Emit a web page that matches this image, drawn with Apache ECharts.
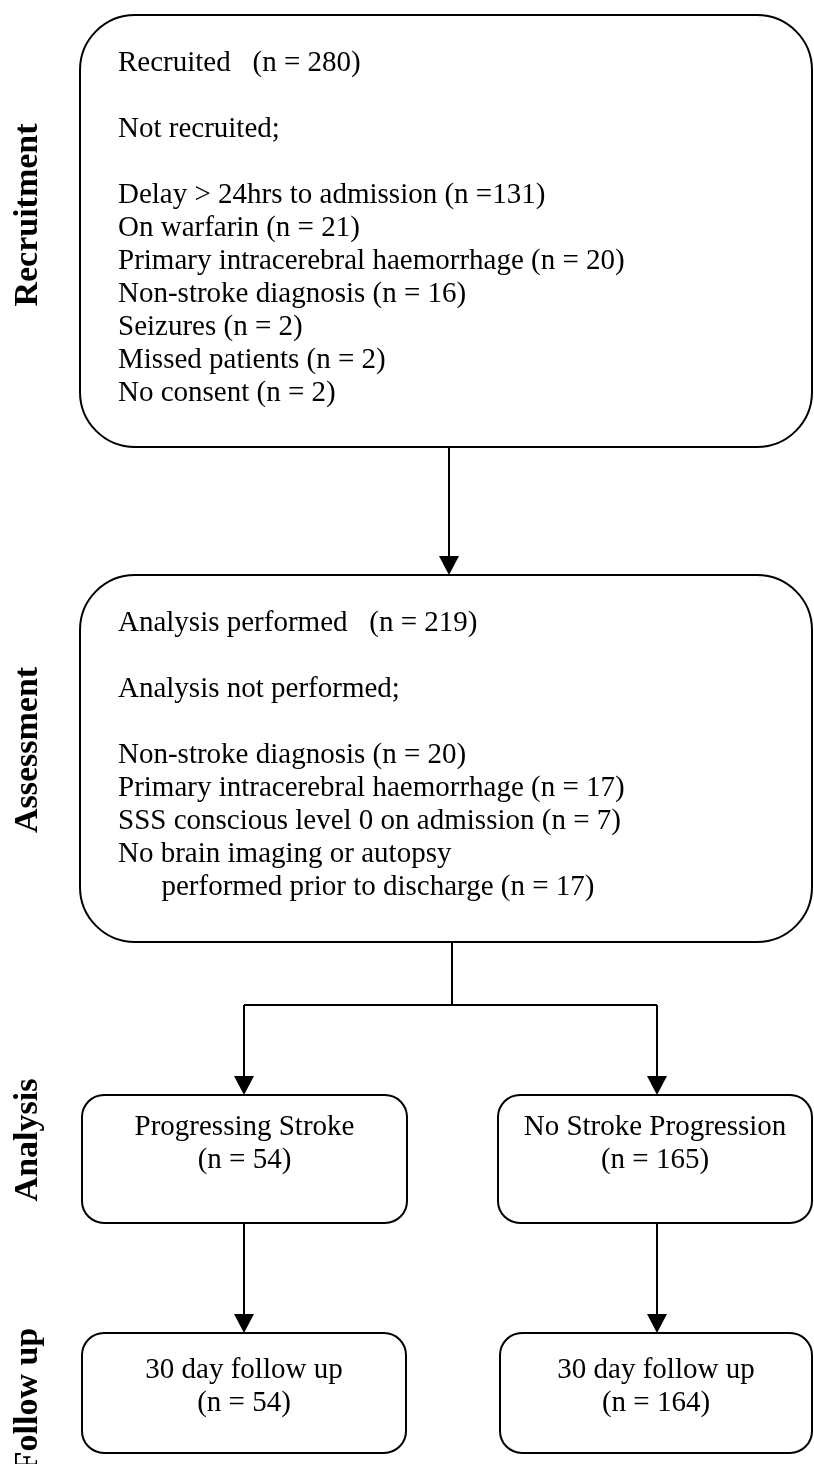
<!DOCTYPE html>
<html>
<head>
<meta charset="utf-8">
<script src="https://cdn.jsdelivr.net/npm/echarts@6/dist/echarts.min.js"></script>
<style>
html,body{margin:0;padding:0;background:#fff;}
#chart{width:814px;height:1464px;}
</style>
</head>
<body>
<div id="chart"></div>
<script>
// ---- data ----
const stageLabels = ['Recruitment', 'Assessment', 'Analysis', 'Follow up'];
const recruitmentLines = [
  'Recruited   (n = 280)',
  '',
  'Not recruited;',
  '',
  'Delay > 24hrs to admission (n =131)',
  'On warfarin (n = 21)',
  'Primary intracerebral haemorrhage (n = 20)',
  'Non-stroke diagnosis (n = 16)',
  'Seizures (n = 2)',
  'Missed patients (n = 2)',
  'No consent (n = 2)'
];
const assessmentLines = [
  'Analysis performed   (n = 219)',
  '',
  'Analysis not performed;',
  '',
  'Non-stroke diagnosis (n = 20)',
  'Primary intracerebral haemorrhage (n = 17)',
  'SSS conscious level 0 on admission (n = 7)',
  'No brain imaging or autopsy',
  '      performed prior to discharge (n = 17)'
];
const analysisGroups = ['Progressing Stroke', 'No Stroke Progression'];
const analysisCounts = [54, 165];
const followUpTitle = '30 day follow up';
const followUpCounts = [54, 164];

// ---- layout (pixels) ----
const FONT = '"Liberation Serif", "Times New Roman", serif';
const FS = 29, LH = 33;
const LINE = { stroke: '#000', lineWidth: 2 };

const bigBoxes = [
  { x: 80, y: 15, w: 732, h: 432, lines: recruitmentLines, label: 0 },
  { x: 80, y: 575, w: 732, h: 367, lines: assessmentLines, label: 1 }
];
const colX = [244, 657];
const smallBoxes = [
  { x: 82, y: 1095, w: 325, h: 128 },
  { x: 498, y: 1095, w: 314, h: 128 },
  { x: 82, y: 1333, w: 324, h: 120 },
  { x: 500, y: 1333, w: 312, h: 120 }
];

const g = [];
function text(str, x, y, opts) {
  g.push(Object.assign({
    type: 'text', x: x, y: y, silent: true,
    style: Object.assign({
      text: str, fill: '#000', fontFamily: FONT, fontSize: FS,
      align: 'left', verticalAlign: 'middle'
    }, opts && opts.style || {})
  }, opts && opts.el || {}));
}
function rrect(b, r) {
  g.push({ type: 'rect', silent: true,
    shape: { x: b.x, y: b.y, width: b.w, height: b.h, r: r },
    style: Object.assign({ fill: 'none' }, LINE) });
}
function line(pts) {
  g.push({ type: 'polyline', silent: true, shape: { points: pts },
    style: Object.assign({ fill: 'none' }, LINE) });
}
function arrow(x, y1, y2) {
  line([[x, y1], [x, y2 - 14]]);
  g.push({ type: 'polygon', silent: true,
    shape: { points: [[x - 10, y2 - 19], [x + 10, y2 - 19], [x, y2]] },
    style: { fill: '#000' } });
}

// big boxes with text
bigBoxes.forEach(function (b) {
  rrect(b, 55);
  b.lines.forEach(function (s, i) {
    if (s) text(s, 118, b.y + 48 + i * LH);
  });
});

// stage labels (rotated)
const labelY = [215, 750, 1140, 1400];
stageLabels.forEach(function (s, i) {
  text(s, 28, labelY[i], {
    el: { rotation: Math.PI / 2 },
    style: { fontSize: 34, fontWeight: 'bold', align: 'center' }
  });
});

// connectors
arrow(449, 447, 575);
line([[452, 942], [452, 1005]]);
line([[colX[0], 1005], [colX[1], 1005]]);
arrow(colX[0], 1005, 1095);
arrow(colX[1], 1005, 1095);
arrow(colX[0], 1223, 1333);
arrow(colX[1], 1223, 1333);

// small boxes
smallBoxes.forEach(function (b) { rrect(b, 22); });
analysisGroups.forEach(function (s, i) {
  const b = smallBoxes[i];
  const cx = b.x + b.w / 2;
  text(s, cx, b.y + 32, { style: { align: 'center' } });
  text('(n = ' + analysisCounts[i] + ')', cx, b.y + 32 + LH, { style: { align: 'center' } });
});
followUpCounts.forEach(function (n, i) {
  const b = smallBoxes[i + 2];
  const cx = b.x + b.w / 2;
  text(followUpTitle, cx, b.y + 37, { style: { align: 'center' } });
  text('(n = ' + n + ')', cx, b.y + 37 + LH, { style: { align: 'center' } });
});

const chart = echarts.init(document.getElementById('chart'), null, { renderer: 'canvas' });
chart.setOption({
  backgroundColor: '#fff',
  animation: false,
  graphic: { elements: g }
});
</script>
</body>
</html>
